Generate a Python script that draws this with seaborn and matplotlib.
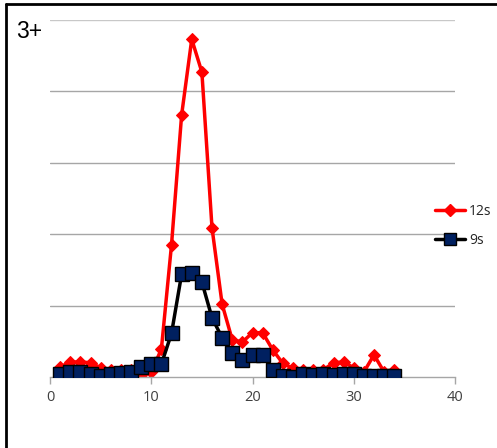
import matplotlib
matplotlib.use("Agg")
import matplotlib.pyplot as plt
import seaborn as sns
import pandas as pd
from matplotlib.lines import Line2D

x_vals = list(range(1, 35))
s12 = [0.14, 0.21, 0.21, 0.20, 0.13, 0.10, 0.10, 0.10, 0.00, 0.07,
       0.39, 1.85, 3.67, 4.73, 4.27, 2.09, 1.02, 0.52, 0.49, 0.62,
       0.62, 0.38, 0.19, 0.12, 0.10, 0.10, 0.10, 0.20, 0.21, 0.13,
       0.07, 0.31, 0.07, 0.10]
s9 = [0.04, 0.07, 0.07, 0.04, 0.01, 0.04, 0.05, 0.07, 0.14, 0.18,
      0.18, 0.61, 1.44, 1.46, 1.33, 0.83, 0.55, 0.34, 0.24, 0.31,
      0.31, 0.10, 0.01, 0.00, 0.04, 0.03, 0.04, 0.03, 0.04, 0.04,
      0.01, 0.01, 0.01, 0.01]
x_ticks = [0, 10, 20, 30, 40]
series_names = ["12s", "9s"]
title_text = "3+"

df = pd.DataFrame({"x": x_vals + x_vals,
                   "y": s12 + s9,
                   "series": [series_names[0]] * len(x_vals) + [series_names[1]] * len(x_vals)})

sns.set_style("white")
plt.rcParams['font.family'] = ['Liberation Sans', 'DejaVu Sans']

W, H = 497, 448
fig = plt.figure(figsize=(W / 100, H / 100), dpi=100)
ax = fig.add_axes([50 / W, (H - 377) / H, 405 / W, 357 / H])

for yv in [1, 2, 3, 4]:
    ax.axhline(yv, color="#a6a6a6", lw=1.0, zorder=0)
ax.axhline(5, color="#c8c8c8", lw=1.0, zorder=0)

sns.lineplot(data=df[df.series == "12s"], x="x", y="y", ax=ax, color="#ff0000",
             lw=2.5, marker="D", markersize=6.5, markeredgecolor="#ff0000", zorder=2,
             legend=False)
sns.lineplot(data=df[df.series == "9s"], x="x", y="y", ax=ax, color="black",
             lw=2.5, marker="s", markersize=9.5, markerfacecolor="#002060",
             markeredgecolor="black", markeredgewidth=1.0, zorder=3, legend=False)

ax.set_xlim(0, 40)
ax.set_ylim(0, 5)
ax.set_xticks(x_ticks)
ax.set_xticklabels([str(t) for t in x_ticks], color="#404040", fontsize=10.5,
                   fontfamily=['Open Sans', 'DejaVu Sans'])
ax.set_yticks([])
ax.set_xlabel("")
ax.set_ylabel("")
for s in ["top", "right", "left"]:
    ax.spines[s].set_visible(False)
ax.spines["bottom"].set_color("#a6a6a6")
ax.spines["bottom"].set_linewidth(1.0)
ax.tick_params(axis="x", direction="out", length=5, width=1, color="#a6a6a6", pad=4,
               bottom=True)

handles = [Line2D([], [], color="#ff0000", lw=2.5, marker="D", markersize=6.5),
           Line2D([], [], color="black", lw=2.5, marker="s", markersize=9,
                  markerfacecolor="#002060", markeredgecolor="black")]
fig.legend(handles, series_names, loc="center left",
           bbox_to_anchor=(422 / W, 1 - 226 / H), frameon=False,
           handlelength=2.2, handletextpad=0.3, labelspacing=1.0,
           prop={'family': ['Open Sans', 'DejaVu Sans'], 'size': 10})

fig.text(16 / W, 1 - 32 / H, title_text, fontsize=16.5, va="center", ha="left",
         color="black", fontfamily=['Liberation Sans', 'DejaVu Sans'])

# outer border lines (top and left)
fig.add_artist(Line2D([6 / W, 1], [1 - 4 / H, 1 - 4 / H], color="black", lw=2,
                      transform=fig.transFigure))
fig.add_artist(Line2D([6 / W, 6 / W], [0, 1 - 4 / H], color="black", lw=2,
                      transform=fig.transFigure))

fig.savefig("out.png", dpi=100)
